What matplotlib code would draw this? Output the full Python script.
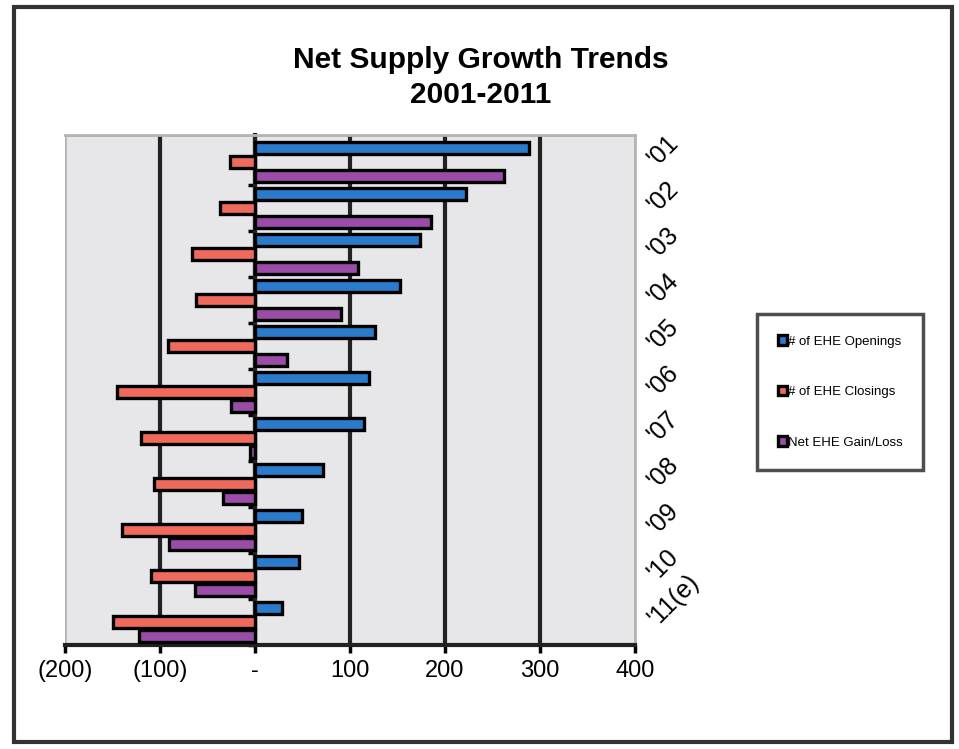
import numpy as np
import matplotlib.pyplot as plt
from matplotlib.patches import Rectangle

plt.rcParams['font.family'] = ['Liberation Sans', 'DejaVu Sans']

years = ["'01", "'02", "'03", "'04", "'05", "'06", "'07", "'08", "'09", "'10", "'11(e)"]
openings = [288, 222, 174, 153, 126, 120, 115, 72, 49, 46, 28]
closings = [-26, -37, -66, -62, -92, -145, -120, -106, -140, -109, -150]
net = [262, 185, 108, 91, 34, -25, -5, -34, -91, -63, -122]

series_names = ["# of EHE Openings", "# of EHE Closings", "Net EHE Gain/Loss"]
colors = ["#2b7bcc", "#f06a5c", "#9b4ca8"]

fig = plt.figure(figsize=(9.59, 7.49), dpi=100)
ax = fig.add_axes([65 / 959, 1 - 645 / 749, 570 / 959, 510 / 749])

# page frame from the scan
fig.patches.append(Rectangle((14 / 959, 1 - 742 / 749), 938 / 959, 735 / 749,
                             transform=fig.transFigure, fill=False,
                             edgecolor="#333333", linewidth=3))

ax.set_facecolor("#e7e7ea")
# light border round the plot area
ax.add_patch(Rectangle((0, 0), 1, 1, transform=ax.transAxes, fill=False,
                       edgecolor="#b5b5b5", linewidth=2, zorder=1))

n = len(years)
centers = np.arange(n)
h = 0.26
for k, vals in enumerate([openings, closings, net]):
    ax.barh(centers + (k - 1) * 0.305, vals, height=h, color=colors[k],
            edgecolor="black", linewidth=2.4, zorder=3, label=series_names[k])

ax.set_xlim(-200, 400)
ax.set_ylim(n - 0.6, -0.58)

# vertical gridlines
for gx in [-100, 0, 100, 200, 300]:
    ax.axvline(gx, color="#222222", linewidth=3, zorder=2)

# category axis at zero with short ticks between groups
ax.spines['left'].set_position(('data', 0))
ax.spines['left'].set_color("#222222")
ax.spines['left'].set_linewidth(3)
ax.spines['left'].set_zorder(2)
ax.set_yticks(centers)
ax.set_yticklabels(years, rotation=45, fontsize=18, ha='left', va='center',
                   rotation_mode='anchor')
ax.set_yticks(np.arange(n) + 0.5, minor=True)
ax.tick_params(axis='y', which='major', length=0, left=False, right=False,
               labelleft=False, labelright=True, pad=12)
ax.tick_params(axis='y', which='minor', left=True, right=False, length=5,
               width=2.5, direction='out')

for s in ['top', 'right']:
    ax.spines[s].set_color("#b5b5b5")
    ax.spines[s].set_linewidth(2)
ax.spines['bottom'].set_linewidth(3)
ax.spines['bottom'].set_color("#222222")

xticks = [-200, -100, 0, 100, 200, 300, 400]
xlabels = ["(200)", "(100)", "-", "100", "200", "300", "400"]
ax.set_xticks(xticks)
ax.set_xticklabels(xlabels, fontsize=17)
ax.tick_params(axis='x', length=6, width=2.5, pad=5)

fig.text(481 / 959, 1 - 60 / 749, "Net Supply Growth Trends", ha='center', va='center',
         fontsize=21.5, fontweight='bold')
fig.text(481 / 959, 1 - 95 / 749, "2001-2011", ha='center', va='center',
         fontsize=21.5, fontweight='bold')

leg = fig.legend(loc='center', bbox_to_anchor=(840 / 959, 1 - 392 / 749),
                 fontsize=9.5, frameon=True, fancybox=False, labelspacing=2.9,
                 handlelength=0.7, handleheight=0.7, handletextpad=0.05,
                 borderpad=1.6, borderaxespad=0)
leg.get_frame().set_edgecolor("#222222")
leg.get_frame().set_linewidth(2.5)

fig.savefig("out.png", dpi=100)
